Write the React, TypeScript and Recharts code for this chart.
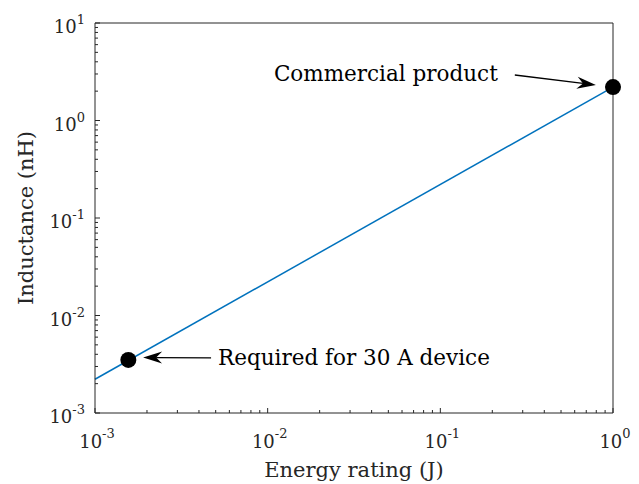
import React from 'react'
import { ComposedChart, Line, Scatter, XAxis, YAxis, ReferenceLine } from 'recharts'

// axis ticks (log scales)
const xMajorTicks = [0.001, 0.01, 0.1, 1]
const xTickExponents = ['-3', '-2', '-1', '0']
const xMinorTicks = [
  0.002, 0.003, 0.004, 0.005, 0.006, 0.007, 0.008, 0.009,
  0.02, 0.03, 0.04, 0.05, 0.06, 0.07, 0.08, 0.09,
  0.2, 0.3, 0.4, 0.5, 0.6, 0.7, 0.8, 0.9,
]
const yMajorTicks = [0.001, 0.01, 0.1, 1, 10]
const yTickExponents = ['-3', '-2', '-1', '0', '1']
const yMinorTicks = [
  0.002, 0.003, 0.004, 0.005, 0.006, 0.007, 0.008, 0.009,
  0.02, 0.03, 0.04, 0.05, 0.06, 0.07, 0.08, 0.09,
  0.2, 0.3, 0.4, 0.5, 0.6, 0.7, 0.8, 0.9,
  2, 3, 4, 5, 6, 7, 8, 9,
]

// fitted line
const fitEnergy = [0.001, 1]
const fitInductance = [0.00222, 2.2]

// highlighted points
const pointEnergy = [0.00156, 1]
const pointInductance = [0.0035, 2.2]

// annotations
const annotationText = ['Commercial product', 'Required for 30 A device']
const arrowFrom = [[0.27, 2.93], [0.0047, 0.00367]]
const arrowTo = [[0.796, 2.31], [0.0019, 0.00371]]

const fitData = fitEnergy.map((x, i) => ({ x, y: fitInductance[i] }))
const pointData = pointEnergy.map((x, i) => ({ x, y: pointInductance[i] }))
const xTicks = [...xMajorTicks, ...xMinorTicks].sort((a, b) => a - b)
const yTicks = [...yMajorTicks, ...yMinorTicks].sort((a, b) => a - b)

const FONT = '"DejaVu Serif", serif'
const AXIS_COLOR = '#262626'

function majorIndex(majors: number[], v: number) {
  return majors.findIndex((m) => Math.abs(m - v) / m < 1e-6)
}

function makeTick(side: 'bottom' | 'top' | 'left' | 'right', majors: number[], exps: string[]) {
  return (props: any) => {
    const { x, y, payload } = props
    const i = majorIndex(majors, payload.value)
    const len = i >= 0 ? 5 : 3
    let line
    let label = null
    if (side === 'bottom') {
      line = <line x1={x} y1={y} x2={x} y2={y - len} />
      if (i >= 0)
        label = (
          <text x={x + 2} y={y + 35} textAnchor="middle" fill={AXIS_COLOR} stroke="none" fontSize={18} fontFamily={FONT}>
            <tspan>10</tspan>
            <tspan dy={-10} fontSize={13}>{exps[i]}</tspan>
          </text>
        )
    } else if (side === 'top') {
      line = <line x1={x} y1={y} x2={x} y2={y + len} />
    } else if (side === 'left') {
      line = <line x1={x} y1={y} x2={x + len} y2={y} />
      if (i >= 0)
        label = (
          <text x={x - 10} y={y + 10} textAnchor="end" fill={AXIS_COLOR} stroke="none" fontSize={18} fontFamily={FONT}>
            <tspan>10</tspan>
            <tspan dy={-9} fontSize={13}>{exps[i]}</tspan>
          </text>
        )
    } else {
      line = <line x1={x} y1={y} x2={x - len} y2={y} />
    }
    return (
      <g stroke={AXIS_COLOR} strokeWidth={1}>
        {line}
        {label}
      </g>
    )
  }
}

function makeArrow(text: string, textOnLeft: boolean) {
  return (props: any) => {
    const { x1, y1, x2, y2 } = props
    const dx = x2 - x1
    const dy = y2 - y1
    const d = Math.sqrt(dx * dx + dy * dy) || 1
    const ux = dx / d
    const uy = dy / d
    const nx = -uy
    const ny = ux
    const L = 19
    const W = 6
    const N = 13
    const w1 = [x2 - L * ux + W * nx, y2 - L * uy + W * ny]
    const w2 = [x2 - L * ux - W * nx, y2 - L * uy - W * ny]
    const notch = [x2 - N * ux, y2 - N * uy]
    return (
      <g>
        <line x1={x1} y1={y1} x2={notch[0]} y2={notch[1]} stroke="#000" strokeWidth={1.3} />
        <path
          d={`M${x2},${y2} L${w1[0]},${w1[1]} L${notch[0]},${notch[1]} L${w2[0]},${w2[1]} Z`}
          fill="#000"
          stroke="none"
        />
        <text
          x={textOnLeft ? x1 - 17 : x1 + 7}
          y={y1 + (textOnLeft ? 6 : 7)}
          textAnchor={textOnLeft ? 'end' : 'start'}
          fontSize={21.5}
          fontFamily={FONT}
          fill="#000"
        >
          {text}
        </text>
      </g>
    )
  }
}

export default function App() {
  return (
    <div style={{ width: 639, height: 484, background: '#fff' }}>
      <style>{'body{margin:0}'}</style>
      <ComposedChart width={639} height={484} margin={{ top: 0, right: 0, bottom: 0, left: 0 }}>
        <XAxis
          xAxisId="b"
          dataKey="x"
          type="number"
          scale="log"
          domain={[0.001, 1]}
          ticks={xTicks}
          interval={0}
          orientation="bottom"
          height={71}
          tickSize={0}
          tickMargin={0}
          tickLine={false}
          axisLine={{ stroke: AXIS_COLOR }}
          tick={makeTick('bottom', xMajorTicks, xTickExponents)}
          label={{
            content: (p: any) => {
              const vb = p.viewBox
              return (
                <text x={vb.x + vb.width / 2} y={vb.y + 64} textAnchor="middle" fontSize={21} fontFamily={FONT} fill={AXIS_COLOR}>
                  Energy rating (J)
                </text>
              )
            },
          }}
        />
        <XAxis
          xAxisId="t"
          dataKey="x"
          type="number"
          scale="log"
          domain={[0.001, 1]}
          ticks={xTicks}
          interval={0}
          orientation="top"
          height={23}
          tickSize={0}
          tickMargin={0}
          tickLine={false}
          axisLine={{ stroke: AXIS_COLOR }}
          tick={makeTick('top', xMajorTicks, xTickExponents)}
        />
        <YAxis
          yAxisId="l"
          type="number"
          scale="log"
          domain={[0.001, 10]}
          ticks={yTicks}
          interval={0}
          orientation="left"
          width={95}
          tickSize={0}
          tickMargin={0}
          tickLine={false}
          axisLine={{ stroke: AXIS_COLOR }}
          tick={makeTick('left', yMajorTicks, yTickExponents)}
          label={{
            content: (p: any) => {
              const vb = p.viewBox
              const cx = vb.x + 33
              const cy = vb.y + vb.height / 2
              return (
                <text
                  x={cx}
                  y={cy}
                  transform={`rotate(-90, ${cx}, ${cy})`}
                  textAnchor="middle"
                  fontSize={21}
                  fontFamily={FONT}
                  fill={AXIS_COLOR}
                >
                  Inductance (nH)
                </text>
              )
            },
          }}
        />
        <YAxis
          yAxisId="r"
          type="number"
          scale="log"
          domain={[0.001, 10]}
          ticks={yTicks}
          interval={0}
          orientation="right"
          width={26}
          tickSize={0}
          tickMargin={0}
          tickLine={false}
          axisLine={{ stroke: AXIS_COLOR }}
          tick={makeTick('right', yMajorTicks, yTickExponents)}
        />
        <Line
          xAxisId="b"
          yAxisId="l"
          data={fitData}
          dataKey="y"
          type="linear"
          stroke="#0072BD"
          strokeWidth={1.5}
          dot={false}
          activeDot={false}
          isAnimationActive={false}
        />
        <Scatter
          xAxisId="b"
          yAxisId="l"
          data={pointData}
          dataKey="y"
          isAnimationActive={false}
          shape={(p: any) => <circle cx={p.cx} cy={p.cy} r={8} fill="#000" />}
        />
        {annotationText.map((t, i) => (
          <ReferenceLine
            key={t}
            xAxisId="b"
            yAxisId="l"
            segment={[
              { x: arrowFrom[i][0], y: arrowFrom[i][1] },
              { x: arrowTo[i][0], y: arrowTo[i][1] },
            ]}
            ifOverflow="visible"
            shape={makeArrow(t, i === 0)}
          />
        ))}
      </ComposedChart>
    </div>
  )
}
